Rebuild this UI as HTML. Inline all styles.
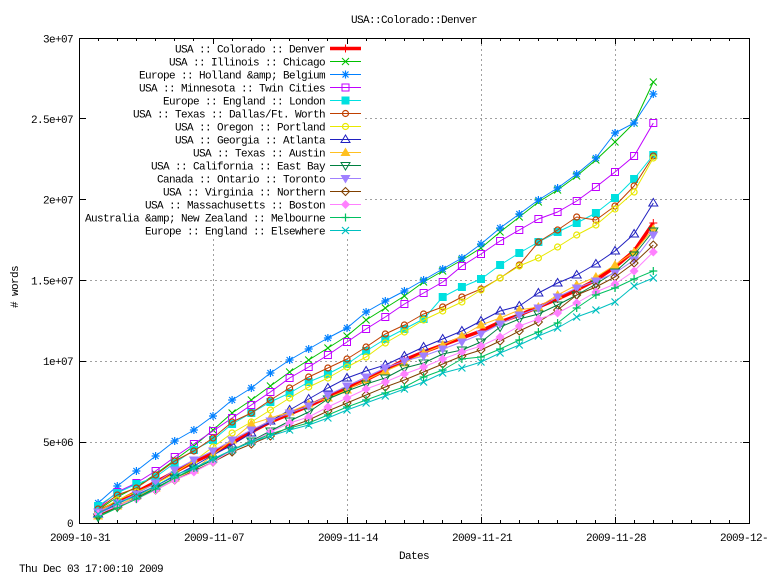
<!DOCTYPE html>
<html><head><meta charset="utf-8"><style>
html,body{margin:0;padding:0;background:#fff;}
svg{display:block;}
text{font-family:"Liberation Mono","DejaVu Sans Mono",monospace;font-size:11px;letter-spacing:-0.6px;fill:#000;}
</style></head><body>
<svg width="768" height="576" viewBox="0 0 768 576" xmlns="http://www.w3.org/2000/svg">
<defs>
<marker id="mPlusR" markerUnits="userSpaceOnUse" markerWidth="1" markerHeight="1" refX="0" refY="0" style="overflow:visible"><path d="M-4 0H4M0 -4V4" stroke="#ff0000" stroke-width="1" fill="none"/></marker>
<marker id="mXg" markerUnits="userSpaceOnUse" markerWidth="1" markerHeight="1" refX="0" refY="0" style="overflow:visible"><path d="M-3.5 -3.5L3.5 3.5M-3.5 3.5L3.5 -3.5" stroke="#00c000" stroke-width="1" fill="none"/></marker>
<marker id="mStar" markerUnits="userSpaceOnUse" markerWidth="1" markerHeight="1" refX="0" refY="0" style="overflow:visible"><path d="M-4 0H4M0 -4V4M-3 -3L3 3M-3 3L3 -3" stroke="#0080ff" stroke-width="1.2" fill="none"/></marker>
<marker id="mBox" markerUnits="userSpaceOnUse" markerWidth="1" markerHeight="1" refX="0" refY="0" style="overflow:visible"><rect x="-3.5" y="-3.5" width="7" height="7" stroke="#c000ff" stroke-width="1" fill="none"/></marker>
<marker id="mFBox" markerUnits="userSpaceOnUse" markerWidth="1" markerHeight="1" refX="0" refY="0" style="overflow:visible"><rect x="-4" y="-4" width="8" height="8" fill="#00e0e0"/></marker>
<marker id="mCirB" markerUnits="userSpaceOnUse" markerWidth="1" markerHeight="1" refX="0" refY="0" style="overflow:visible"><circle r="3" stroke="#c04000" stroke-width="1.2" fill="none"/></marker>
<marker id="mCirY" markerUnits="userSpaceOnUse" markerWidth="1" markerHeight="1" refX="0" refY="0" style="overflow:visible"><circle r="3" stroke="#e8e800" stroke-width="1.2" fill="none"/></marker>
<marker id="mTri" markerUnits="userSpaceOnUse" markerWidth="1" markerHeight="1" refX="0" refY="0" style="overflow:visible"><path d="M0 -4.5L4.5 3L-4.5 3Z" stroke="#2020c0" stroke-width="1" fill="none"/></marker>
<marker id="mFTri" markerUnits="userSpaceOnUse" markerWidth="1" markerHeight="1" refX="0" refY="0" style="overflow:visible"><path d="M0 -5L5 3.5L-5 3.5Z" fill="#ffc020"/></marker>
<marker id="mITri" markerUnits="userSpaceOnUse" markerWidth="1" markerHeight="1" refX="0" refY="0" style="overflow:visible"><path d="M0 4.5L4.5 -3L-4.5 -3Z" stroke="#008040" stroke-width="1" fill="none"/></marker>
<marker id="mFITri" markerUnits="userSpaceOnUse" markerWidth="1" markerHeight="1" refX="0" refY="0" style="overflow:visible"><path d="M0 5L5 -3.5L-5 -3.5Z" fill="#a080ff"/></marker>
<marker id="mDia" markerUnits="userSpaceOnUse" markerWidth="1" markerHeight="1" refX="0" refY="0" style="overflow:visible"><path d="M0 -4L4 0L0 4L-4 0Z" stroke="#804000" stroke-width="1" fill="none"/></marker>
<marker id="mFDia" markerUnits="userSpaceOnUse" markerWidth="1" markerHeight="1" refX="0" refY="0" style="overflow:visible"><path d="M0 -4.5L4.5 0L0 4.5L-4.5 0Z" fill="#ff80ff"/></marker>
<marker id="mPlusG" markerUnits="userSpaceOnUse" markerWidth="1" markerHeight="1" refX="0" refY="0" style="overflow:visible"><path d="M-4 0H4M0 -4V4" stroke="#00c060" stroke-width="1.2" fill="none"/></marker>
<marker id="mXt" markerUnits="userSpaceOnUse" markerWidth="1" markerHeight="1" refX="0" refY="0" style="overflow:visible"><path d="M-3.5 -3.5L3.5 3.5M-3.5 3.5L3.5 -3.5" stroke="#00c0c0" stroke-width="1.2" fill="none"/></marker>
</defs>

<rect x="0" y="0" width="768" height="576" fill="#fff"/>

<!-- grid -->
<path d="M80 442.5H749M80 361.5H749M80 280.5H749M80 199.5H749M80 118.5H749M213.5 39V523M347.5 39V523M481.5 39V523M615.5 39V523" stroke="#a0a0a0" stroke-width="1" stroke-dasharray="2,3" fill="none"/>
<!-- legend area background -->
<rect x="80" y="39" width="284" height="198" fill="#fff"/>

<!-- ticks -->
<path d="M79.5 523.5H86M79.5 442.5H86M79.5 361.5H86M79.5 280.5H86M79.5 199.5H86M79.5 118.5H86M79.5 38.5H86
M749.5 442.5H743M749.5 361.5H743M749.5 280.5H743M749.5 199.5H743M749.5 118.5H743
M213.5 523V517M347.5 523V517M481.5 523V517M615.5 523V517
M213.5 38V44M347.5 38V44M481.5 38V44M615.5 38V44
M98.5 523V520M117.5 523V520M136.5 523V520M155.5 523V520M174.5 523V520M193.5 523V520M232.5 523V520M251.5 523V520M270.5 523V520M289.5 523V520M308.5 523V520M327.5 523V520M366.5 523V520M385.5 523V520M404.5 523V520M423.5 523V520M442.5 523V520M461.5 523V520M500.5 523V520M519.5 523V520M538.5 523V520M557.5 523V520M576.5 523V520M595.5 523V520M634.5 523V520M653.5 523V520M672.5 523V520M691.5 523V520M710.5 523V520M729.5 523V520
M98.5 38V41M117.5 38V41M136.5 38V41M155.5 38V41M174.5 38V41M193.5 38V41M232.5 38V41M251.5 38V41M270.5 38V41M289.5 38V41M308.5 38V41M327.5 38V41M366.5 38V41M385.5 38V41M404.5 38V41M423.5 38V41M442.5 38V41M461.5 38V41M500.5 38V41M519.5 38V41M538.5 38V41M557.5 38V41M576.5 38V41M595.5 38V41M634.5 38V41M653.5 38V41M672.5 38V41M691.5 38V41M710.5 38V41M729.5 38V41" stroke="#000" stroke-width="1" fill="none"/>

<!-- series -->
<g fill="none" stroke-linejoin="round">
<polyline stroke="#ff0000" stroke-width="3.5" marker-start="url(#mPlusR)" marker-mid="url(#mPlusR)" marker-end="url(#mPlusR)" points="98.1,512 117.3,502 136.4,492 155.6,482 174.7,472 193.9,462 213,453 232.1,443 251.3,432 270.4,422 289.6,414 308.7,406 327.9,397 347,388 366.1,380 385.3,370 404.4,360 423.6,352 442.7,345 461.9,338 481,331 500.1,322 519.3,315 538.4,307 557.6,299 576.7,290 595.9,280 615,267 634.1,251 653.3,223"/>
<polyline stroke="#00c000" stroke-width="1" marker-start="url(#mXg)" marker-mid="url(#mXg)" marker-end="url(#mXg)" points="98.1,510 117.3,497 136.4,487 155.6,474 174.7,460 193.9,446 213,430 232.1,413 251.3,400 270.4,386 289.6,372 308.7,360 327.9,348 347,336 366.1,320 385.3,308 404.4,296 423.6,282 442.7,271 461.9,260 481,248 500.1,232 519.3,217 538.4,202 557.6,190 576.7,176 595.9,160 615,142 634.1,123 653.3,82"/>
<polyline stroke="#0080ff" stroke-width="1" marker-start="url(#mStar)" marker-mid="url(#mStar)" marker-end="url(#mStar)" points="98.1,503 117.3,486 136.4,471 155.6,456 174.7,441 193.9,430 213,416 232.1,400 251.3,388 270.4,373 289.6,360 308.7,349 327.9,338 347,328 366.1,312 385.3,301 404.4,291 423.6,280 442.7,269 461.9,258 481,244 500.1,228 519.3,214 538.4,200 557.6,188 576.7,174 595.9,158 615,133 634.1,123 653.3,94"/>
<polyline stroke="#c000ff" stroke-width="1" marker-start="url(#mBox)" marker-mid="url(#mBox)" marker-end="url(#mBox)" points="98.1,508 117.3,492 136.4,483 155.6,471 174.7,457 193.9,444 213,431 232.1,418 251.3,405 270.4,392 289.6,378 308.7,367 327.9,355 347,342 366.1,329 385.3,317 404.4,304 423.6,293 442.7,282 461.9,266 481,254 500.1,241 519.3,230 538.4,219 557.6,212 576.7,201 595.9,187 615,172 634.1,156 653.3,123"/>
<polyline stroke="#00e0e0" stroke-width="1" marker-start="url(#mFBox)" marker-mid="url(#mFBox)" marker-end="url(#mFBox)" points="98.1,506 117.3,493 136.4,484 155.6,477 174.7,463 193.9,450 213,440 232.1,424 251.3,413 270.4,402 289.6,393 308.7,382 327.9,374 347,364 366.1,351 385.3,339 404.4,329 423.6,319 442.7,297 461.9,287 481,279 500.1,265 519.3,253 538.4,242 557.6,232 576.7,223 595.9,213 615,198 634.1,179 653.3,155"/>
<polyline stroke="#c04000" stroke-width="1" marker-start="url(#mCirB)" marker-mid="url(#mCirB)" marker-end="url(#mCirB)" points="98.1,509 117.3,495 136.4,488 155.6,475 174.7,461 193.9,451 213,438 232.1,422 251.3,413 270.4,400 289.6,388 308.7,377 327.9,368 347,359 366.1,347 385.3,334 404.4,325 423.6,314 442.7,307 461.9,297 481,289 500.1,278 519.3,265 538.4,242 557.6,230 576.7,217 595.9,220 615,206 634.1,186 653.3,156"/>
<polyline stroke="#e8e800" stroke-width="1" marker-start="url(#mCirY)" marker-mid="url(#mCirY)" marker-end="url(#mCirY)" points="98.1,512 117.3,500 136.4,492 155.6,484 174.7,473 193.9,461 213,447 232.1,433 251.3,422 270.4,410 289.6,398 308.7,387 327.9,378 347,367 366.1,357 385.3,343 404.4,332 423.6,320 442.7,311 461.9,302 481,290 500.1,278 519.3,266 538.4,258 557.6,247 576.7,235 595.9,225 615,209 634.1,192 653.3,158"/>
<polyline stroke="#2020c0" stroke-width="1" marker-start="url(#mTri)" marker-mid="url(#mTri)" marker-end="url(#mTri)" points="98.1,514 117.3,504 136.4,495 155.6,486 174.7,476 193.9,466 213,455 232.1,445 251.3,433 270.4,421 289.6,410 308.7,399 327.9,388 347,378 366.1,371 385.3,365 404.4,356 423.6,347 442.7,339 461.9,331 481,321 500.1,311 519.3,306 538.4,293 557.6,283 576.7,275 595.9,264 615,251 634.1,234 653.3,203"/>
<polyline stroke="#ffc020" stroke-width="1" marker-start="url(#mFTri)" marker-mid="url(#mFTri)" marker-end="url(#mFTri)" points="98.1,516 117.3,506 136.4,496 155.6,488 174.7,478 193.9,470 213,455 232.1,440 251.3,424 270.4,418 289.6,412 308.7,404 327.9,398 347,390 366.1,380 385.3,371 404.4,363 423.6,353 442.7,345 461.9,336 481,325 500.1,318 519.3,310 538.4,307 557.6,295 576.7,285 595.9,277 615,265 634.1,252 653.3,229"/>
<polyline stroke="#008040" stroke-width="1" marker-start="url(#mITri)" marker-mid="url(#mITri)" marker-end="url(#mITri)" points="98.1,517 117.3,507 136.4,498 155.6,488 174.7,478 193.9,469 213,460 232.1,450 251.3,441 270.4,431 289.6,421 308.7,412 327.9,399 347,391 366.1,384 385.3,378 404.4,368 423.6,363 442.7,354 461.9,350 481,342 500.1,327 519.3,319 538.4,314 557.6,305 576.7,295 595.9,284 615,272 634.1,255 653.3,231"/>
<polyline stroke="#a080ff" stroke-width="1" marker-start="url(#mFITri)" marker-mid="url(#mFITri)" marker-end="url(#mFITri)" points="98.1,512 117.3,503 136.4,494 155.6,483 174.7,470 193.9,460 213,451 232.1,440 251.3,430 270.4,421 289.6,413 308.7,406 327.9,395 347,386 366.1,377 385.3,368 404.4,361 423.6,356 442.7,349 461.9,342 481,334 500.1,324 519.3,315 538.4,308 557.6,297 576.7,288 595.9,281 615,273 634.1,260 653.3,235"/>
<polyline stroke="#804000" stroke-width="1" marker-start="url(#mDia)" marker-mid="url(#mDia)" marker-end="url(#mDia)" points="98.1,515 117.3,507 136.4,498 155.6,490 174.7,480 193.9,471 213,462 232.1,452 251.3,444 270.4,436 289.6,427 308.7,420 327.9,411 347,403 366.1,395 385.3,387 404.4,380 423.6,372 442.7,364 461.9,356 481,350 500.1,341 519.3,331 538.4,322 557.6,310 576.7,295 595.9,287 615,277 634.1,263 653.3,245"/>
<polyline stroke="#ff80ff" stroke-width="1" marker-start="url(#mFDia)" marker-mid="url(#mFDia)" marker-end="url(#mFDia)" points="98.1,514 117.3,506 136.4,499 155.6,490 174.7,480 193.9,472 213,462 232.1,450 251.3,442 270.4,432 289.6,423 308.7,417 327.9,407 347,398 366.1,389 385.3,382 404.4,374 423.6,367 442.7,359 461.9,352 481,346 500.1,337 519.3,326 538.4,319 557.6,313 576.7,303 595.9,292 615,284 634.1,271 653.3,252"/>
<polyline stroke="#00c060" stroke-width="1" marker-start="url(#mPlusG)" marker-mid="url(#mPlusG)" marker-end="url(#mPlusG)" points="98.1,517 117.3,508 136.4,499 155.6,489 174.7,478 193.9,468 213,459 232.1,450 251.3,442 270.4,434 289.6,428 308.7,423 327.9,415 347,407 366.1,400 385.3,393 404.4,387 423.6,377 442.7,370 461.9,359 481,357 500.1,349 519.3,340 538.4,332 557.6,323 576.7,308 595.9,295 615,288 634.1,279 653.3,271"/>
<polyline stroke="#00c0c0" stroke-width="1" marker-start="url(#mXt)" marker-mid="url(#mXt)" marker-end="url(#mXt)" points="98.1,514 117.3,503 136.4,496 155.6,486 174.7,475 193.9,468 213,459 232.1,450 251.3,442 270.4,436 289.6,430 308.7,425 327.9,418 347,410 366.1,403 385.3,396 404.4,389 423.6,382 442.7,373 461.9,368 481,362 500.1,353 519.3,345 538.4,336 557.6,328 576.7,317 595.9,310 615,302 634.1,286 653.3,278"/>
</g>

<!-- border -->
<rect x="79.5" y="38.5" width="670" height="485" fill="none" stroke="#000" stroke-width="1"/>

<!-- legend -->
<g fill="none">
<path d="M330 48.5H345.5H361" stroke="#ff0000" stroke-width="3.5" marker-mid="url(#mPlusR)"/>
<path d="M330 61.5H345.5H361" stroke="#00c000" marker-mid="url(#mXg)"/>
<path d="M330 74.5H345.5H361" stroke="#0080ff" marker-mid="url(#mStar)"/>
<path d="M330 87.5H345.5H361" stroke="#c000ff" marker-mid="url(#mBox)"/>
<path d="M330 100.5H345.5H361" stroke="#00e0e0" marker-mid="url(#mFBox)"/>
<path d="M330 113.5H345.5H361" stroke="#c04000" marker-mid="url(#mCirB)"/>
<path d="M330 126.5H345.5H361" stroke="#e8e800" marker-mid="url(#mCirY)"/>
<path d="M330 139.5H345.5H361" stroke="#2020c0" marker-mid="url(#mTri)"/>
<path d="M330 152.5H345.5H361" stroke="#ffc020" marker-mid="url(#mFTri)"/>
<path d="M330 165.5H345.5H361" stroke="#008040" marker-mid="url(#mITri)"/>
<path d="M330 178.5H345.5H361" stroke="#a080ff" marker-mid="url(#mFITri)"/>
<path d="M330 191.5H345.5H361" stroke="#804000" marker-mid="url(#mDia)"/>
<path d="M330 204.5H345.5H361" stroke="#ff80ff" marker-mid="url(#mFDia)"/>
<path d="M330 217.5H345.5H361" stroke="#00c060" marker-mid="url(#mPlusG)"/>
<path d="M330 230.5H345.5H361" stroke="#00c0c0" marker-mid="url(#mXt)"/>
</g>
<g text-anchor="end">
<text x="325" y="52.5">USA :: Colorado :: Denver</text>
<text x="325" y="65.5">USA :: Illinois :: Chicago</text>
<text x="325" y="78.5">Europe :: Holland &amp;amp; Belgium</text>
<text x="325" y="91.5">USA :: Minnesota :: Twin Cities</text>
<text x="325" y="104.5">Europe :: England :: London</text>
<text x="325" y="117.5">USA :: Texas :: Dallas/Ft. Worth</text>
<text x="325" y="130.5">USA :: Oregon :: Portland</text>
<text x="325" y="143.5">USA :: Georgia :: Atlanta</text>
<text x="325" y="156.5">USA :: Texas :: Austin</text>
<text x="325" y="169.5">USA :: California :: East Bay</text>
<text x="325" y="182.5">Canada :: Ontario :: Toronto</text>
<text x="325" y="195.5">USA :: Virginia :: Northern</text>
<text x="325" y="208.5">USA :: Massachusetts :: Boston</text>
<text x="325" y="221.5">Australia &amp;amp; New Zealand :: Melbourne</text>
<text x="325" y="234.5">Europe :: England :: Elsewhere</text>
</g>

<!-- y tick labels -->
<g text-anchor="end">
<text x="73" y="527">0</text>
<text x="73" y="446">5e+06</text>
<text x="73" y="365">1e+07</text>
<text x="73" y="284.5">1.5e+07</text>
<text x="73" y="203.5">2e+07</text>
<text x="73" y="123">2.5e+07</text>
<text x="73" y="42.5">3e+07</text>
</g>

<!-- x tick labels -->
<g text-anchor="middle">
<text x="80" y="541">2009-10-31</text>
<text x="214" y="541">2009-11-07</text>
<text x="348" y="541">2009-11-14</text>
<text x="482" y="541">2009-11-21</text>
<text x="616" y="541">2009-11-28</text>
<text x="750" y="541">2009-12-05</text>
</g>

<text x="414" y="23" text-anchor="middle">USA::Colorado::Denver</text>
<text x="414" y="559" text-anchor="middle">Dates</text>
<text x="18" y="287" text-anchor="middle" transform="rotate(-90 18 287)">
# words</text>
<text x="19" y="572">Thu Dec 03 17:00:10 2009</text>
</svg>
</body></html>
